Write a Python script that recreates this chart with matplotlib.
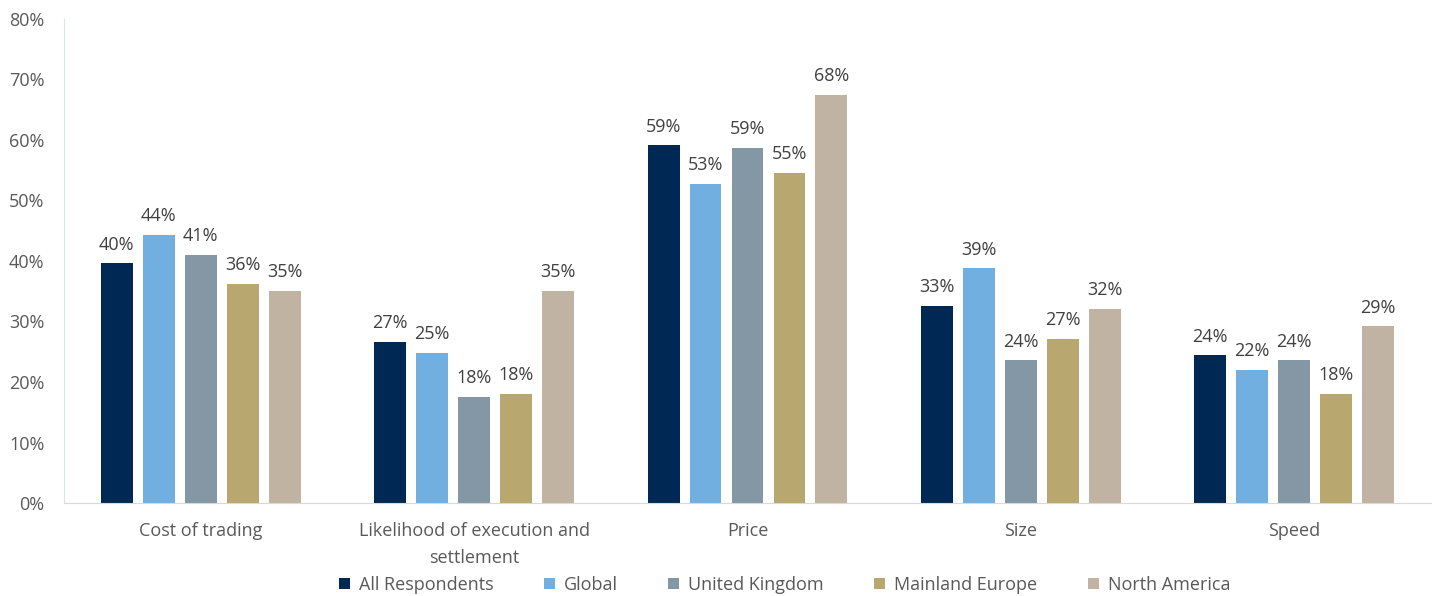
import numpy as np
import matplotlib.pyplot as plt
from matplotlib.ticker import PercentFormatter

plt.rcParams['font.family'] = ['Open Sans', 'DejaVu Sans']

# Categories and series values (%)
categories = ['Cost of trading', 'Likelihood of execution and\nsettlement', 'Price', 'Size', 'Speed']
all_respondents = [39.6, 26.6, 59.1, 32.6, 24.4]
global_ = [44.3, 24.8, 52.7, 38.8, 22.0]
united_kingdom = [41.0, 17.5, 58.7, 23.6, 23.6]
mainland_europe = [36.2, 18.0, 54.6, 27.1, 18.0]
north_america = [35.1, 35.1, 67.5, 32.1, 29.2]

series_names = ['All Respondents', 'Global', 'United Kingdom', 'Mainland Europe', 'North America']
series_values = [all_respondents, global_, united_kingdom, mainland_europe, north_america]
colors = ['#002855', '#72AFE1', '#8397A5', '#B8A86F', '#C1B3A2']

fig = plt.figure(figsize=(14.37, 5.96), dpi=100)
ax = fig.add_axes([64 / 1437, 1 - 503 / 596, (1431 - 64) / 1437, (503 - 19) / 596])

x = np.arange(len(categories))
step = 0.1536
width = 0.117

for i, (name, vals, c) in enumerate(zip(series_names, series_values, colors)):
    pos = x + (i - 2) * step
    bars = ax.bar(pos, vals, width, color=c, label=name)
    for b, v in zip(bars, vals):
        ax.text(b.get_x() + b.get_width() / 2, v + 1.6, f'{v:.0f}%',
                ha='center', va='bottom', fontsize=13, color='#404040')

ax.set_xlim(-0.5, len(categories) - 0.5)
ax.set_ylim(0, 80)
ax.set_yticks(np.arange(0, 81, 10))
ax.yaxis.set_major_formatter(PercentFormatter(decimals=0))
ax.set_xticks(x)
ax.set_xticklabels(categories, linespacing=1.6)
ax.tick_params(axis='both', length=0, labelsize=13, colors='#595959')
ax.tick_params(axis='x', pad=14)
ax.tick_params(axis='y', pad=14)
for lbl in ax.get_yticklabels():
    lbl.set_horizontalalignment('right')

for s in ['top', 'right']:
    ax.spines[s].set_visible(False)
ax.spines['left'].set_color('#D9E1F2')
ax.spines['bottom'].set_color('#D9D9D9')

leg = fig.legend(loc='lower center', bbox_to_anchor=(0.546, -0.024), ncol=5, frameon=False,
                 fontsize=13, handlelength=0.6, handleheight=0.6, handletextpad=0.5,
                 columnspacing=2.8, labelcolor='#595959')

fig.savefig('out.png', dpi=100)
